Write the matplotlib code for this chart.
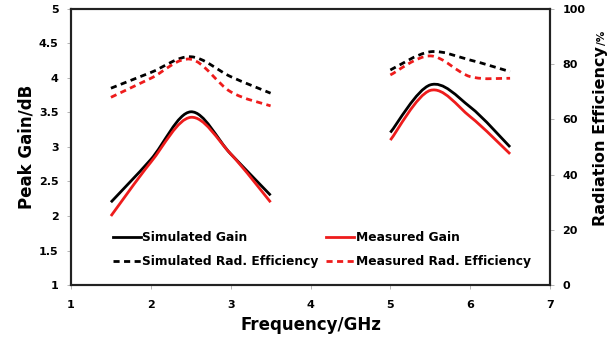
import matplotlib
matplotlib.use("Agg")
import matplotlib.pyplot as plt
from matplotlib.path import Path
from matplotlib.patches import PathPatch
from matplotlib.lines import Line2D

plt.rcParams['font.family'] = ['DejaVu Sans']
plt.rcParams['font.weight'] = 'bold'

freq_band1 = [1.5, 2.0, 2.5, 3.0, 3.5]
freq_band2 = [5.0, 5.5, 6.0, 6.5]

sim_gain_b1 = [2.2, 2.82, 3.51, 2.9, 2.3]
meas_gain_b1 = [2.0, 2.78, 3.43, 2.9, 2.2]
sim_gain_b2 = [3.21, 3.9, 3.58, 3.0]
meas_gain_b2 = [3.1, 3.82, 3.44, 2.9]

sim_eff_b1 = [71.3, 77.0, 82.7, 75.5, 69.5]
meas_eff_b1 = [68.0, 74.9, 81.8, 70.0, 64.9]
sim_eff_b2 = [77.9, 84.5, 81.5, 77.3]
meas_eff_b2 = [76.1, 83.0, 75.5, 74.9]

x_ticks = [1, 2, 3, 4, 5, 6, 7]
gain_ticks = [1, 1.5, 2, 2.5, 3, 3.5, 4, 4.5, 5]
gain_ticklabels = ['1', '1.5', '2', '2.5', '3', '3.5', '4', '4.5', '5']
eff_ticks = [0, 20, 40, 60, 80, 100]

BLACK = '#000000'
RED = '#EE1C1C'
LW = 2.0
DASH = (0, (2.2, 1.6))


def smooth_path(xs, ys):
    """Excel-style smoothed line (Catmull-Rom Bezier) through the points."""
    n = len(xs)
    verts = [(xs[0], ys[0])]
    codes = [Path.MOVETO]
    for i in range(n - 1):
        x0, y0 = (xs[i - 1], ys[i - 1]) if i > 0 else (xs[i], ys[i])
        x1, y1 = xs[i], ys[i]
        x2, y2 = xs[i + 1], ys[i + 1]
        x3, y3 = (xs[i + 2], ys[i + 2]) if i + 2 < n else (x2, y2)
        c1 = (x1 + (x2 - x0) / 6.0, y1 + (y2 - y0) / 6.0)
        c2 = (x2 - (x3 - x1) / 6.0, y2 - (y3 - y1) / 6.0)
        verts += [c1, c2, (x2, y2)]
        codes += [Path.CURVE4] * 3
    return Path(verts, codes)


def draw(ax, xs, ys, color, ls):
    p = PathPatch(smooth_path(xs, ys), facecolor='none', edgecolor=color,
                  lw=LW, linestyle=ls, capstyle='butt', joinstyle='round')
    ax.add_patch(p)


fig = plt.figure(figsize=(6.08, 3.38), dpi=100)
ax = fig.add_axes([0.1168, 0.1568, 0.7878, 0.8166])
ax2 = ax.twinx()

draw(ax2, freq_band1, sim_eff_b1, BLACK, DASH)
draw(ax2, freq_band1, meas_eff_b1, RED, DASH)
draw(ax2, freq_band2, sim_eff_b2, BLACK, DASH)
draw(ax2, freq_band2, meas_eff_b2, RED, DASH)
draw(ax, freq_band1, sim_gain_b1, BLACK, '-')
draw(ax, freq_band1, meas_gain_b1, RED, '-')
draw(ax, freq_band2, sim_gain_b2, BLACK, '-')
draw(ax, freq_band2, meas_gain_b2, RED, '-')

ax.set_xlim(1, 7)
ax.set_ylim(1, 5)
ax2.set_ylim(0, 100)
ax.set_xticks(x_ticks)
ax.set_yticks(gain_ticks)
ax.set_yticklabels(gain_ticklabels)
ax2.set_yticks(eff_ticks)

for a in (ax, ax2):
    for s in a.spines.values():
        s.set_linewidth(1.5)
        s.set_color('#222222')
    a.tick_params(labelsize=8, length=3, width=0.6, color='#aaaaaa', pad=6)
ax.tick_params(axis='x', pad=8)

ax.set_xlabel('Frequency/GHz', fontsize=12, fontweight='bold', labelpad=4)
ax.set_ylabel('Peak Gain/dB', fontsize=12, fontweight='bold', labelpad=2)

# right-hand label: large "Radiation Efficiency" followed by small "/%"
px_w, px_h = 608.0, 338.0
t1 = fig.text(601 / px_w, 1 - 226 / px_h, 'Radiation Efficiency',
              rotation=90, ha='center', va='bottom', fontsize=11.5,
              fontweight='bold')
fig.canvas.draw()
bb = t1.get_window_extent(fig.canvas.get_renderer())
fig.text((bb.x0 + bb.x1) / 2 / (fig.dpi * fig.get_figwidth()) + 0.002,
         bb.y1 / (fig.dpi * fig.get_figheight()) + 0.002,
         '/%', rotation=90, ha='center', va='bottom', fontsize=7.5,
         fontweight='bold')

handles = [
    Line2D([], [], color=BLACK, lw=LW, ls='-'),
    Line2D([], [], color=BLACK, lw=LW, ls=DASH),
    Line2D([], [], color=RED, lw=LW, ls='-'),
    Line2D([], [], color=RED, lw=LW, ls=DASH),
]
labels = ['Simulated Gain', 'Simulated Rad. Efficiency',
          'Measured Gain', 'Measured Rad. Efficiency']
leg = ax.legend(handles, labels, ncol=2, loc='lower left',
                bbox_to_anchor=(0.065, 0.02), frameon=False,
                fontsize=8.8, handlelength=2.3, handletextpad=0.1,
                columnspacing=0.6, labelspacing=0.95)
for t in leg.get_texts():
    t.set_fontweight('bold')

fig.savefig('out.png', dpi=100)
